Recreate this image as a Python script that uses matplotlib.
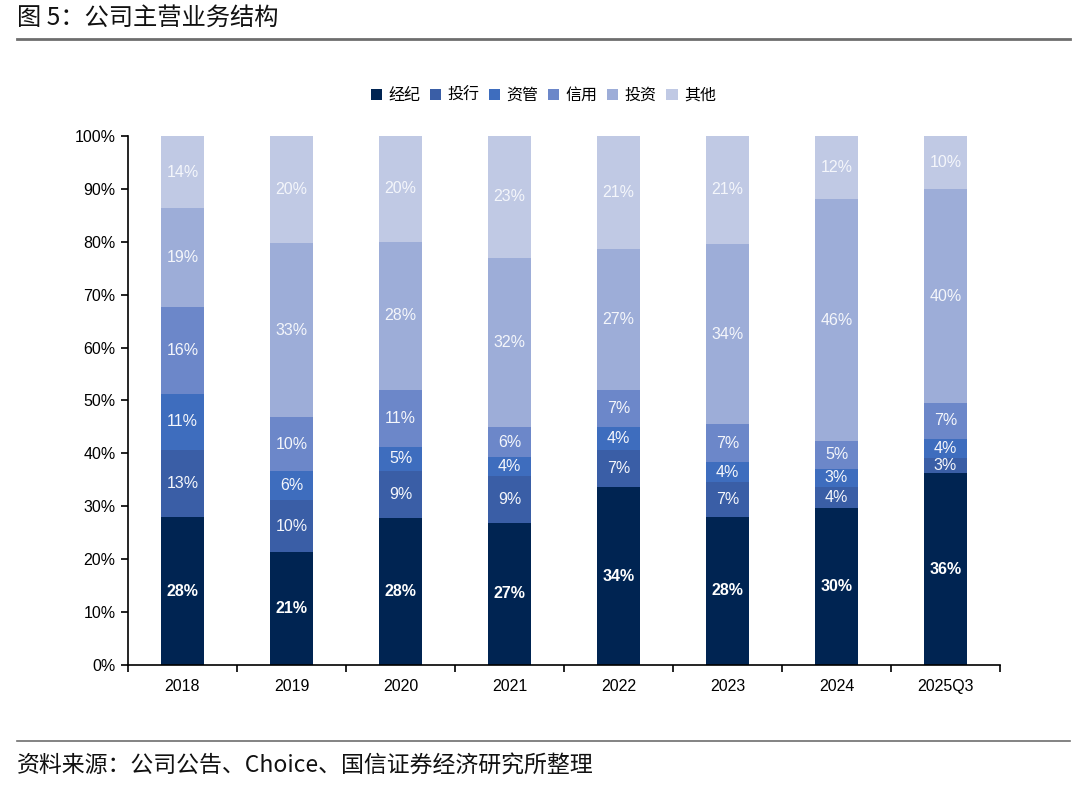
import matplotlib
matplotlib.use("Agg")
import matplotlib.pyplot as plt
import numpy as np

plt.rcParams['font.family'] = ['Liberation Sans', 'Noto Sans CJK SC', 'DejaVu Sans']

years = ['2018', '2019', '2020', '2021', '2022', '2023', '2024', '2025Q3']
series_names = ['经纪', '投行', '资管', '信用', '投资', '其他']
jingji = [27.9, 21.3, 27.8, 26.9, 33.6, 28.0, 29.6, 36.2]
touhang = [12.7, 9.8, 8.8, 8.8, 7.0, 6.6, 4.1, 2.9]
ziguan = [10.7, 5.6, 4.7, 3.6, 4.4, 3.7, 3.3, 3.6]
xinyong = [16.3, 10.1, 10.7, 5.7, 6.9, 7.2, 5.4, 6.9]
touzi = [18.7, 32.9, 28.0, 32.0, 26.8, 34.0, 45.6, 40.3]
qita = [13.7, 20.3, 20.0, 23.1, 21.3, 20.7, 12.0, 10.2]
y_ticks = [0, 10, 20, 30, 40, 50, 60, 70, 80, 90, 100]

colors = ['#002452', '#3a5ea6', '#3e6dbe', '#6c87c9', '#9dadd8', '#c0c9e4']

fig = plt.figure(figsize=(10.8, 7.89), dpi=100)
ax = fig.add_axes([0.1185, 0.1572, 0.8075, 0.6704])

data = [jingji, touhang, ziguan, xinyong, touzi, qita]
x = np.arange(len(years))
bottom = np.zeros(len(years))
for i, (name, vals) in enumerate(zip(series_names, data)):
    vals = np.array(vals)
    ax.bar(x, vals, 0.4, bottom=bottom, color=colors[i], label=name, zorder=2)
    for xi, b, v in zip(x, bottom, vals):
        ax.text(xi, b + v / 2, f"{int(round(v))}%", ha='center', va='center',
                color='white' if i == 0 else '#f4f6fb', fontsize=11.5,
                fontweight='bold' if i == 0 else 'normal')
    bottom += vals

ax.set_xlim(-0.5, len(years) - 0.5)
ax.set_ylim(0, 100)
ax.set_yticks(y_ticks)
ax.set_yticklabels([f"{t}%" for t in y_ticks], fontsize=11.5)
ax.set_xticks(x)
ax.set_xticklabels(years, fontsize=11.5)
ax.tick_params(axis='x', which='major', length=0, pad=10)
ax.set_xticks(np.arange(-0.5, len(years)), minor=True)
ax.tick_params(axis='x', which='minor', length=5, width=1.2, direction='out')
ax.tick_params(axis='y', length=5, width=1.2, direction='out', pad=4)
for s in ['top', 'right']:
    ax.spines[s].set_visible(False)
for s in ['left', 'bottom']:
    ax.spines[s].set_linewidth(1.2)
    ax.spines[s].set_color('black')

leg = fig.legend(loc='center', bbox_to_anchor=(0.503, 0.879), ncol=6, frameon=False,
                 prop={'family': ['Noto Sans CJK SC'], 'size': 11.5},
                 handlelength=0.7, handleheight=0.7, handletextpad=0.4, columnspacing=0.6)

fig.text(0.016, 0.977, '图 5：公司主营业务结构', fontsize=17.5, va='center', ha='left',
         family=['Noto Sans CJK SC'], color='#111111', fontweight='medium')
fig.add_artist(plt.Line2D([0.016, 0.991], [0.951, 0.951], color='#6e6e6e', lw=2.0))
fig.add_artist(plt.Line2D([0.016, 0.991], [0.061, 0.061], color='#6e6e6e', lw=1.2))
fig.text(0.016, 0.029, '资料来源：公司公告、Choice、国信证券经济研究所整理', fontsize=16.5, va='center',
         ha='left', family=['Noto Sans CJK SC'], color='#111111')

fig.savefig('out.png', dpi=100, facecolor='white')
